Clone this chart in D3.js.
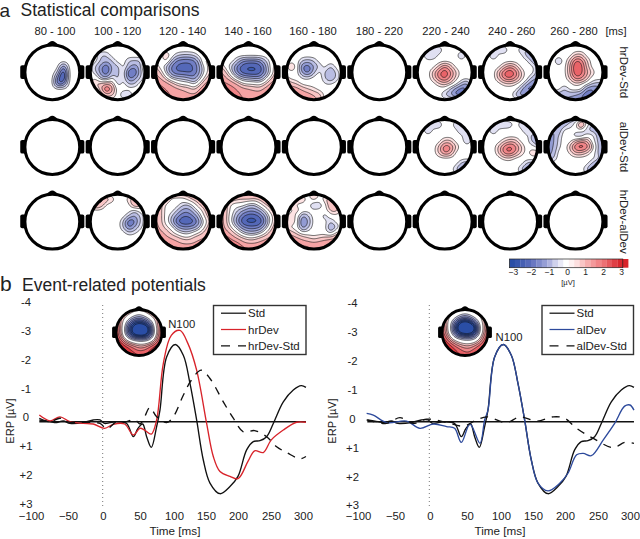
<!DOCTYPE html>
<html>
<head>
<meta charset="utf-8">
<script src="https://d3js.org/d3.v7.min.js"></script>
<style>
body{margin:0;background:#fff;}
svg{display:block;font-family:"Liberation Sans",Arial,sans-serif;}
text{fill:#222;}
</style>
</head>
<body>
<div id="fig"></div>
<script>
// grand average ERP curves (ms / microvolt)
var stdMs = [-96,-80,-70,-60,-50,-30,-15,-5,2,10,20,35,45,52,59,65,72,80,85,95,108,120,130,140,150,160,175,190,202,215,225,235,245,255,270,285,297,304];
var stdUv = [-.06,0,.03,-.03,.06,.03,-.06,-.06,.06,.03,0,.06,.52,.23,.08,.52,.89,.17,-.40,-2.25,-2.68,-2.31,-1.33,-.06,1.33,2.13,2.50,2.25,1.90,.98,.69,.66,.52,.06,-.69,-1.10,-1.25,-1.19];
var hrMs = [-96,-80,-65,-50,-30,-15,2,15,32,45,55,62,72,80,90,102,115,127,140,155,165,175,190,202,217,227,240,252,270,290,304];
var hrUv = [-.23,-.03,-.17,0,.06,.08,.23,.09,.08,.46,.23,.29,.43,-.06,-2.02,-3.0,-3.17,-2.71,-1.79,.06,1.21,1.73,1.90,1.98,1.38,1.01,1.07,.63,.29,.02,.02];
var hrDiffMs = [-96,-80,-65,-55,-5,5,20,35,47,55,62,70,80,95,105,120,132,147,160,180,195,210,227,245,260,275,295,304];
var hrDiffUv = [-.12,0,-.12,0,.06,.25,0,0,-.08,.08,-.17,-.5,-.17,.03,-.17,-.92,-1.44,-1.79,-1.5,-.69,-.12,.35,.31,.52,.87,1.07,1.29,1.21];
var alMs = [-97,-87,-67,-37,-17,3,23,35,45,58,73,80,85,95,108,120,130,140,150,160,175,193,205,218,228,240,258,275,290,298,304];
var alUv = [-.29,-.23,.03,-.02,.23,.08,.17,.23,.72,.08,.75,-.06,-.40,-2.25,-2.68,-2.31,-1.33,-.06,1.33,2.13,2.40,2.13,1.79,1.15,1.10,1.18,.63,.06,-.54,-.58,-.40];
var alDiffMs = [-97,-67,-47,-27,-7,23,48,68,83,113,133,158,183,200,218,243,273,290,304];
var alDiffUv = [-.06,.06,-.14,.06,-.09,.03,.15,-.06,-.17,.03,-.17,-.02,-.17,-.12,.23,.58,.90,.72,.75];

var timeTicks = [-100,-50,0,50,100,150,200,250,300];
var timeTickPos = [31,68,103,140,174,206,238,271,303];
var uvTicks = [-4,-3,-2,-1,0,1,2,3];
var uvTickLabels = ["-4","-3","-2","-1","0","+1","+2","+3"];
var windows = ["80 - 100","100 - 120","120 - 140","140 - 160","160 - 180","180 - 220","220 - 240","240 - 260","260 - 280"];
var windowPos = [55,117.7,182.7,248,313,379.3,446,511.7,574];
var contrasts = ["hrDev-Std","alDev-Std","hrDev-alDev"];
var barTicks = [-3,-2,-1,0,1,2,3];
var mapLevels = [.3,.7,1.2,1.7,2.2,2.7,3.2];
var insetLevels = [.4,.8,1.2,1.6,2,2.4,2.8];

// scalp maps: 11x11 grids (rows front to back, left to right), microvolt, 0 = not significant
var blank = null;
var hs80 = [[0,0,0,0,0,0,0,0,0,0,0],[0,0,0,0,0,0,0,0,0,0,0],[0,0,0,0,0,0,0,0,0,0,0],[0,0,0,0,0,0,0,0,0,0,0],[0,0,0,0,0,0,0,-2,0,0,0],[0,0,0,0,0,0,-.6,-3.4,0,0,0],[0,0,0,0,0,0,-2,-3.4,0,0,0],[0,0,0,0,0,0,-2.5,-2,0,0,0],[0,0,0,0,0,0,0,0,0,0,0],[0,0,0,0,0,0,0,0,0,0,0],[0,0,0,0,0,0,0,0,0,0,0]];
var hs100 = [[0,0,0,0,0,0,0,0,0,0,0],[0,0,0,0,0,0,0,0,0,0,0],[0,0,-.8,-.8,0,0,0,0,0,0,0],[0,0,-.8,-1,-.8,0,0,-.8,-.8,-.8,0],[0,-.8,-1.5,-2.5,-.9,-1,0,-1,-1.6,-1,1],[0,-.6,-1.5,-2.5,-.8,-1,0,-2.5,-2.5,-.9,0],[0,.4,-1,-1.2,-.2,-1,0,-2,-1.5,-.7,0],[0,1,.9,1,1,-.8,0,-.8,-.8,0,0],[0,0,1,3,1.4,0,0,0,0,0,0],[0,0,0,1,.9,0,-.9,-.9,0,0,0],[0,0,0,0,0,0,0,0,0,0,0]];
var hs120 = [[0,0,0,0,0,0,0,0,0,0,0],[0,0,0,0,0,0,0,0,0,0,0],[0,0,1,0,-.6,-.8,-.8,-.6,0,0,0],[0,0,.5,-1,-2,-2.2,-2.2,-2,-.8,.8,0],[.8,0,-.8,-2,-2.4,-2.4,-2.4,-2.2,-1.2,0,.8],[1.2,.8,-.6,-1.8,-2.3,-2.3,-2.4,-2.2,-1.2,0,.8],[1.4,1.2,.4,-.6,-.8,-.9,-1.2,-1.6,-.6,.6,1.2],[1.8,1.7,1.5,1,.3,0,0,-.6,.4,1.4,1.7],[1.8,1.8,1.7,1.6,1.4,1.2,1,.6,1.4,1.7,1.7],[1.9,1.9,1.8,1.6,1.5,1.4,1.3,1.3,1.5,1.7,1.7],[1.9,1.9,1.9,1.8,1.7,1.6,1.6,1.6,1.6,1.7,1.7]];
var hs140 = [[0,0,0,0,0,0,0,0,0,0,0],[0,0,0,0,0,0,0,0,0,0,0],[0,0,0,0,0,0,0,0,0,0,0],[0,0,0,-.8,-1.8,-2,-2,-1.8,-.8,0,0],[.8,0,-.8,-2,-2.6,-2.8,-2.8,-2.6,-1.5,0,.8],[1.4,.8,-.5,-1.8,-2.6,-2.8,-2.8,-2.6,-1.5,-.3,1],[1.5,1.3,.6,-.5,-1,-1.2,-1.4,-1.5,-.6,.6,1.3],[1.9,1.8,1.6,1.2,.3,.2,.2,0,.6,1.4,1.7],[2.1,2,1.9,1.7,1.5,1.3,1.1,1,1.5,1.7,1.8],[2.2,2.2,2,1.8,1.6,1.6,1.5,1.5,1.6,1.8,1.8],[2.2,2.2,2.2,2,1.7,1.7,1.8,1.8,1.8,1.8,1.8]];
var hs160 = [[0,0,0,0,0,0,0,0,0,0,0],[0,0,0,0,0,0,0,0,0,0,0],[0,0,0,0,0,0,0,0,0,0,0],[0,0,0,-.8,-1,-.7,0,0,0,0,0],[0,1.2,0,-2,-2.2,-1.2,-.7,0,-.9,0,0],[0,0,0,-1.5,-2.2,-.8,0,-.8,-1.4,-.6,0],[.5,0,0,-.3,-.3,0,0,-.7,-1.4,-.6,0],[1.2,.9,.6,0,0,0,0,-.3,-.3,0,0],[1.6,1.6,1.5,1.1,.7,.4,0,0,0,0,0],[1.8,1.8,1.7,1.6,1.5,1.2,1,0,0,0,0],[1.9,1.9,1.8,1.7,1.6,1.4,1.1,0,0,0,0]];
var hs220 = [[0,0,0,0,0,0,0,0,0,0,0],[0,0,0,-.8,-.8,0,0,0,0,0,0],[0,0,-1.1,-.8,0,0,0,0,-1.1,0,0],[0,0,0,0,0,0,0,0,0,0,0],[0,0,0,0,.8,2,1,0,0,0,0],[0,0,0,1,2.2,2.8,2,.8,0,0,0],[0,0,0,.8,2,2.6,1.6,.5,0,0,0],[0,0,0,0,.6,1,.6,0,-.8,-1.5,0],[0,0,0,0,0,0,-.8,-1.5,-2.2,-2,0],[0,0,0,0,0,-.9,-1.2,-2.2,-2,0,0],[0,0,0,0,0,0,0,0,0,0,0]];
var hs240 = [[0,0,0,0,0,0,0,0,0,0,0],[0,0,0,-.8,-.8,0,0,-.8,-.8,0,0],[0,0,-1.1,0,0,0,0,0,-1.1,-1.1,0],[0,0,0,0,0,0,0,0,0,-1.1,-1.1],[0,0,0,0,.9,1.8,1,0,0,0,-1.1],[0,0,0,1.2,2.5,2.8,2.2,.7,0,0,-1.1],[0,0,0,1,2.2,2.5,1.8,.6,0,-.9,-1.2],[0,0,0,0,.5,.6,.3,0,-.9,-1.8,-1.8],[0,0,0,0,0,0,0,-1,-2.2,-2,-1],[0,0,0,0,0,0,-.9,-1.8,-1.2,0,0],[0,0,0,0,0,0,0,0,0,0,0]];
var hs260 = [[0,0,0,0,0,0,0,0,0,0,0],[0,0,0,0,0,0,0,0,0,0,0],[0,0,0,0,0,.9,1,0,0,0,0],[0,0,-1.1,0,.8,2.5,2.2,.8,0,0,0],[0,0,0,0,1.2,3,2.6,1,0,0,0],[0,0,0,0,1.2,2.8,2.5,1.5,.6,0,0],[0,0,0,0,.8,2.2,2,1,0,0,0],[0,0,0,0,0,.5,.3,0,-.6,-.9,-.9],[0,0,0,-.9,0,0,0,-1.6,-2,-1.6,-.9],[-.9,-1,-1.1,-1.1,-1.2,-1.3,-1.6,-2.4,-1.6,-1.1,-.9],[-1,-1,-1.2,-1.2,-1.3,-1.4,-1.6,-2,-1.4,-1,-1]];
var as220 = [[0,0,0,0,0,0,0,0,0,0,0],[0,0,0,-.9,-.8,0,0,-.8,-.8,0,0],[0,0,-1.1,0,0,0,0,0,-1.1,0,0],[0,0,0,0,0,0,0,0,0,-1.1,0],[0,0,0,0,0,.9,.9,0,0,-.8,0],[0,0,0,0,.9,2.4,2,.8,0,0,0],[0,0,0,0,.9,2,1.6,0,0,0,0],[0,0,0,0,0,0,0,0,0,0,0],[0,0,0,0,0,0,0,0,-.9,-1.4,-.7],[0,0,0,0,0,0,0,-.8,-1.6,-1,0],[0,0,0,0,0,0,0,0,0,0,0]];
var as240 = [[0,0,0,0,0,0,0,0,0,0,0],[0,0,0,-.9,-.8,-.7,0,-.8,-.8,0,0],[0,0,-1.1,0,0,0,0,0,-1.1,0,0],[0,0,0,0,0,0,0,0,0,-1.1,-1.1],[0,0,0,0,.6,1.2,1,0,0,-.9,-1.1],[0,0,0,.9,2.2,2.6,2,.8,0,0,-.7],[0,0,0,.8,2.2,2.4,1.6,.6,0,.9,.9],[0,0,0,0,.4,.5,0,0,0,0,0],[0,0,0,0,0,0,0,0,-.9,-1.2,-.8],[0,0,0,0,0,0,0,-.9,-1.5,-.9,0],[0,0,0,0,0,0,0,0,0,0,0]];
var as260 = [[0,0,0,0,-1,-1,0,0,0,0,0],[0,0,-1.2,-1.2,-.7,0,2.4,0,-1,0,0],[0,-1.4,-1.2,0,0,0,0,-.8,-1,-1,0],[-1.4,-1.4,-.6,0,0,-.8,-1.1,0,0,-1,-1],[-1.5,-1.4,-.5,0,0,1,1.8,1.4,0,-.8,-1.2],[-1.5,-1.3,-.4,0,.8,2.5,2.8,2.4,.8,-.8,-1.2],[-1.5,-1.2,0,0,.3,1.2,1.2,.6,0,-.8,-1.2],[-1.2,-.8,0,0,0,0,0,0,0,-.6,-.9],[0,0,0,0,0,0,0,0,-.9,-1.4,-.8],[0,0,0,0,0,0,0,-.9,-1.6,-1,0],[0,0,0,0,0,0,0,0,0,0,0]];
var ha100 = [[0,0,0,0,0,0,0,0,0,0,0],[0,0,1.8,1.2,.6,0,0,.6,1.4,0,0],[0,1.8,1.2,0,0,0,0,0,1.5,1.2,0],[0,0,0,0,0,0,0,0,-.7,0,0],[0,0,0,0,0,0,0,-.7,-1.4,-.7,0],[0,0,0,0,0,0,-.7,-2.5,-2,-.7,0],[0,0,0,0,0,0,-.7,-2,-1.2,-.4,0],[0,0,0,0,0,0,0,-.5,-.3,0,0],[0,0,0,0,0,0,0,0,0,0,0],[0,0,0,0,0,0,0,0,0,0,0],[0,0,0,0,0,0,0,0,0,0,0]];
var ha120 = [[1,1,1,1,1,1,1,1,1,1,1],[1.2,1.2,1,0,0,0,.6,1,1,1,1],[1.2,1,0,0,0,-.7,-.8,0,.9,1,1],[1.2,.9,0,0,-.8,-1.5,-1.5,-.8,0,.9,1],[1.3,.9,0,-.7,-1.6,-2.2,-2.2,-1.6,-.7,.7,1],[1.3,.9,0,-1,-2.4,-2.8,-2.8,-2.4,-1.2,0,1],[1.5,1,.5,0,-1.2,-1.6,-1.6,-1.4,-.7,.6,1.2],[1.7,1.4,1,.5,0,-.5,-.5,0,.5,1,1.3],[1.9,1.8,1.4,1.2,1,.6,.5,1,1.2,1.3,1.4],[2,2,1.9,1.6,1.4,1.3,1.3,1.3,1.4,1.4,1.4],[2,2,2,2,1.6,1.5,1.5,1.5,1.5,1.5,1.5]];
var ha140 = [[1.2,1.2,1.2,1.2,1.2,1.2,1.2,1.2,1.2,1.2,1.2],[1.3,1.3,1.1,.8,.7,.9,.7,.9,1.1,1.1,1.1],[1.3,1,0,0,0,-.7,-.8,0,.8,1,1.1],[1.4,.9,0,-.7,-1.2,-1.6,-1.6,-1.2,-.4,.8,1.1],[1.5,.9,-.3,-1.2,-2.2,-2.6,-2.6,-2.2,-1.2,0,1],[1.5,.9,-.4,-1.6,-2.8,-3,-3,-2.8,-1.6,0,1],[1.6,1,.3,-.7,-1.6,-2,-2,-1.8,-.8,.5,1.2],[1.8,1.5,1,.4,-.5,-.9,-.9,-.6,.3,1,1.4],[2.2,2,1.6,1.2,.9,.5,.5,1,1.2,1.4,1.5],[2.4,2.4,2.2,2,1.4,1.4,1.4,1.4,1.5,1.6,1.6],[2.4,2.4,2.4,2.4,2,1.5,1.5,1.6,1.6,1.6,1.6]];
var ha160 = [[0,0,0,0,0,.9,0,0,0,0,0],[0,0,.9,.8,0,.8,0,.8,1.2,0,0],[0,.9,0,0,0,-1.2,-.8,0,1.4,1.2,0],[0,0,.8,0,0,0,0,0,.9,1,0],[0,.9,0,-1.5,-.8,0,0,-.8,0,0,0],[0,.9,0,-2.2,-1.2,0,0,0,-.8,0,0],[.6,0,0,-1.8,-.7,0,0,0,-1.6,-.8,0],[1.4,1,.5,0,0,0,0,0,-.6,.5,.8],[1.7,1.6,1.4,1.1,.8,.5,.8,1,1.2,1.4,1.5],[1.9,1.9,1.7,1.6,1.6,1.5,1.6,1.7,1.8,1.8,1.8],[2,2,2,2,1.8,1.7,1.7,1.8,1.8,1.8,1.8]];
var n100hr = [[1,1,1,1,.8,.6,.8,1,1,1,1],[1.2,1.2,.9,.5,0,-.3,0,.5,.9,1.2,1.2],[1.6,1,.3,-.4,-1,-1.2,-1,-.4,.3,1,1.6],[2,1,-.2,-1.4,-2.4,-2.8,-2.4,-1.6,-.4,1,1.8],[2.2,1,-.6,-2,-3.6,-4.2,-4.2,-2.8,-.8,.8,2],[2.2,1.1,-.6,-2,-3.6,-4.2,-4.2,-2.8,-1,.8,2.2],[2.4,1.4,0,-1,-1.6,-1.8,-1.8,-1.4,-.4,1.2,2.2],[2.6,2.2,1.2,.5,0,-.2,-.2,0,.7,1.8,2.4],[2.8,2.6,2.2,1.8,1.4,1,1,1.5,2,2.4,2.6],[3,2.8,2.6,2.2,1.9,1.7,1.8,2,2.3,2.6,2.6],[3,3,3,2.6,2.2,2,2,2.2,2.4,2.6,2.6]];
var n100al = [[.9,.9,.9,.8,.6,.5,.6,.8,.9,.9,.9],[1.1,1,.7,.3,-.2,-.4,-.2,.3,.7,1,1.1],[1.4,.8,.1,-.6,-1.2,-1.6,-1.2,-.6,.1,.8,1.4],[1.8,.8,-.4,-1.6,-3,-3.6,-3,-1.8,-.5,.8,1.6],[2,.9,-.6,-2.2,-4,-4.4,-4.4,-3.2,-.9,.7,1.8],[2,1,-.4,-1.6,-3,-3.4,-3.4,-2.4,-.7,.8,2],[2.3,1.6,.3,-.6,-1,-1.2,-1.2,-.9,0,1.3,2.2],[2.5,2.2,1.4,.7,.2,0,0,.2,.9,1.8,2.4],[2.7,2.5,2.2,1.7,1.3,1,1,1.4,1.9,2.3,2.5],[2.7,2.7,2.4,2.1,1.8,1.6,1.6,1.9,2.1,2.4,2.5],[2.7,2.7,2.7,2.4,2,1.8,1.8,2,2.2,2.4,2.4]];

var rowsOfMaps = [
	[hs80,hs100,hs120,hs140,hs160,blank,hs220,hs240,hs260],
	[blank,blank,blank,blank,blank,blank,as220,as240,as260],
	[blank,ha100,ha120,ha140,ha160,blank,blank,blank,blank]
];

var svg = d3.select("#fig").append("svg").attr("width",640).attr("height",539);

var uvColor = d3.scaleLinear().domain([-3,-2,-1,-.5,0,.5,1,2,3])
	.range(["#2a4ea6","#5f6fbd","#a9aedd","#e0e0f2","#ffffff","#fde3e3","#f8b8b8","#ee7478","#d8232a"]).clamp(true);
var clipCount = 0;

// smooth the coarse grid so d3.contours gets round lines
var upsample = function(grid,n){
	var rowFns = grid.map(function(r){ return d3.interpolateBasis(r); });
	var out = new Array(n*n);
	for(var ix=0;ix<n;ix++){
		var col = d3.interpolateBasis(rowFns.map(function(f){ return f(ix/(n-1)); }));
		for(var iy=0;iy<n;iy++){
			out[iy*n+ix] = col(iy/(n-1));
		}
	}
	return out;
};

var drawHead = function(cx,cy,r,grid,sw,levels,gain){
	var g = svg.append("g").attr("transform","translate("+cx+","+cy+")");
	var id = "clip"+(clipCount++);
	g.append("clipPath").attr("id",id).append("circle").attr("r",r);

	// ears and nose
	g.append("rect").attr("x",-r*1.17).attr("y",-r*.26).attr("width",r*.25).attr("height",r*.5).attr("rx",r*.07).attr("fill","#000");
	g.append("rect").attr("x",r*.92).attr("y",-r*.26).attr("width",r*.25).attr("height",r*.5).attr("rx",r*.07).attr("fill","#000");
	g.append("path").attr("d","M"+(-r*.24)+","+(-r*.97)+"Q"+(-r*.1)+","+(-r*1.14)+" 0,"+(-r*1.14)+"Q"+(r*.1)+","+(-r*1.14)+" "+(r*.24)+","+(-r*.97)+"Z").attr("fill","#000");

	g.append("circle").attr("r",r).attr("fill","#fff");

	if(grid){
		var n = 61;
		var vals = upsample(grid,n);
		var neg = vals.map(function(v){ return -v; });
		var geo = d3.geoPath();
		var layer = g.append("g").attr("clip-path","url(#"+id+")")
			.append("g").attr("transform","translate("+(-r*1.02)+","+(-r*1.02)+") scale("+(2.04*r/(n-1))+")");
		var cont = d3.contours().size([n,n]).thresholds(levels);
		[[vals,1],[neg,-1]].forEach(function(s){
			layer.selectAll(null).data(cont(s[0])).enter().append("path")
				.attr("d",geo)
				.attr("transform","translate(-.5,-.5)")
				.attr("fill",function(d){ return uvColor(s[1]*(d.value+.25)*gain); })
				.attr("stroke","#111")
				.attr("stroke-width",.6)
				.attr("vector-effect","non-scaling-stroke");
		});
	}
	g.append("circle").attr("r",r).attr("fill","none").attr("stroke","#000").attr("stroke-width",sw);
};

// panel a
var colX = d3.scaleLinear().domain([0,8]).range([52.3,575.5]);
var rowY = d3.scaleLinear().domain([0,2]).range([72.3,221.7]);
rowsOfMaps.forEach(function(row,j){
	row.forEach(function(grid,i){
		drawHead(colX(i),rowY(j),27.4,grid,3,mapLevels,.9);
	});
});

svg.append("text").attr("x",-.5).attr("y",17).attr("font-size",19).text("a");
svg.append("text").attr("x",20.5).attr("y",16).attr("font-size",17.5).text("Statistical comparisons");
svg.append("text").attr("x",0).attr("y",291).attr("font-size",21).text("b");
svg.append("text").attr("x",22).attr("y",291).attr("font-size",17.5).text("Event-related potentials");

svg.selectAll(".win").data(windows).enter().append("text").attr("class","win")
	.attr("x",function(d,i){ return windowPos[i]; }).attr("y",34.5)
	.attr("text-anchor","middle").attr("font-size",11.2).text(function(d){ return d; });
svg.append("text").attr("x",616).attr("y",34.5).attr("text-anchor","middle").attr("font-size",11.2).text("[ms]");

svg.selectAll(".contrast").data(contrasts).enter().append("text").attr("class","contrast")
	.attr("text-anchor","middle").attr("font-size",11.5)
	.attr("transform",function(d,i){ return "translate(619.5,"+rowY(i)+") rotate(90)"; })
	.text(function(d){ return d; });

// colour bar
var barX = d3.scaleLinear().domain([-3,3]).range([513,621]);
svg.append("g").selectAll("rect").data(d3.range(-3.2,3.1,.3)).enter().append("rect")
	.attr("x",function(d){ return barX(d); })
	.attr("y",259).attr("height",8.7)
	.attr("width",barX(.3)-barX(0)+.2)
	.attr("fill",function(d){ return uvColor(Math.abs(d+.15)<.16 ? 0 : d+.15); });
svg.append("rect").attr("x",509.4).attr("y",259).attr("width",113.4).attr("height",8.7).attr("fill","none").attr("stroke","#222").attr("stroke-width",.7);
var barAxis = svg.append("g").attr("transform","translate(0,267)")
	.call(d3.axisBottom(barX).tickValues(barTicks).tickSize(0).tickPadding(2).tickFormat(d3.format("d")));
barAxis.select(".domain").remove();
barAxis.selectAll("text").attr("font-size",8.5).attr("font-family","Liberation Sans").attr("fill","#222");
svg.append("text").attr("x",568).attr("y",284.5).attr("text-anchor","middle").attr("font-size",7.5).text("[µV]");

// panel b
var erpPanel = function(o){
	var x = d3.scaleLinear().domain([0,300]).range([o.zero,o.zero+200]);
	var y = d3.scaleLinear().domain([0,1]).range([421.7,450.5]);
	var yTick = d3.scalePoint().domain(uvTicks).range([301.7+o.dy,504+o.dy]);
	var xTick = d3.scaleLinear().domain(timeTicks).range(timeTickPos.map(function(p){ return p+o.shift; }));

	var xAxis = svg.append("g").attr("transform","translate(0,509)")
		.call(d3.axisBottom(xTick).tickValues(timeTicks).tickSize(0).tickPadding(3)
			.tickFormat(function(d){ return d<0 ? "\u2212"+(-d) : d; }));
	xAxis.select(".domain").remove();
	xAxis.selectAll("text").attr("font-size",11.3).attr("font-family","Liberation Sans").attr("fill","#222");

	var yAxis = svg.append("g").attr("transform","translate("+o.labelX+",0)")
		.call(d3.axisLeft(yTick).tickSize(0).tickPadding(0)
			.tickFormat(function(d,i){ return uvTickLabels[i]; }));
	yAxis.select(".domain").remove();
	yAxis.selectAll("text").attr("font-size",11.3).attr("font-family","Liberation Sans").attr("text-anchor","middle").attr("fill","#222");

	svg.append("text").attr("text-anchor","middle").attr("font-size",11)
		.attr("transform","translate("+o.erpX+",421) rotate(-90)").text("ERP [µV]");
	svg.append("text").attr("x",o.timeX).attr("y",535).attr("text-anchor","middle").attr("font-size",11.7).text("Time [ms]");

	// stimulus onset
	svg.append("line").attr("x1",o.onset).attr("x2",o.onset).attr("y1",305).attr("y2",507)
		.attr("stroke","#777").attr("stroke-width",1).attr("stroke-dasharray","1,3");
	svg.append("line").attr("x1",x(-96)).attr("x2",x(304)).attr("y1",y(0)).attr("y2",y(0))
		.attr("stroke","#111").attr("stroke-width",1.4);

	var line = d3.line().curve(d3.curveCatmullRom)
		.x(function(d){ return x(d[0]); })
		.y(function(d){ return y(d[1]); });

	o.series.forEach(function(s){
		svg.append("path").datum(d3.zip(s.ms,s.uv))
			.attr("fill","none").attr("stroke",s.color)
			.attr("stroke-width",1.35)
			.attr("stroke-dasharray",s.dash ? "8,7" : null)
			.attr("stroke-linejoin","round")
			.attr("d",line);
	});

	drawHead(o.headX,332.5,23,o.grid,2.8,insetLevels,1.2);
	svg.append("text").attr("x",o.n100X).attr("y",o.n100Y).attr("text-anchor","middle").attr("font-size",11.3).text("N100");

	// legend
	svg.append("rect").attr("x",o.boxX).attr("y",305.5).attr("width",o.boxW).attr("height",49)
		.attr("fill","#fff").attr("stroke","#333").attr("stroke-width",1.4);
	o.series.forEach(function(s,i){
		var ly = 313.2+16.3*i;
		svg.append("line").attr("x1",o.boxX+7.5).attr("x2",o.boxX+32.5).attr("y1",ly).attr("y2",ly)
			.attr("stroke",s.color).attr("stroke-width",1.25)
			.attr("stroke-dasharray",s.dash ? "9,8" : null);
		svg.append("text").attr("x",o.boxX+34.5).attr("y",ly+4).attr("font-size",11.5).text(s.name);
	});
};

erpPanel({zero:103.3,onset:102.7,shift:0,dy:0,labelX:26,erpX:14,timeX:175,headX:139,grid:n100hr,n100X:181.7,n100Y:328,boxX:213.5,boxW:92.5,
	series:[{name:"Std",ms:stdMs,uv:stdUv,color:"#111"},{name:"hrDev",ms:hrMs,uv:hrUv,color:"#d8232a"},{name:"hrDev-Std",ms:hrDiffMs,uv:hrDiffUv,color:"#111",dash:true}]});
erpPanel({zero:431.3,onset:429.3,shift:327,dy:1.3,labelX:352.5,erpX:335.5,timeX:500,headX:465,grid:n100al,n100X:509,n100Y:341,boxX:542,boxW:91.5,
	series:[{name:"Std",ms:stdMs,uv:stdUv,color:"#111"},{name:"alDev",ms:alMs,uv:alUv,color:"#2d4a9c"},{name:"alDev-Std",ms:alDiffMs,uv:alDiffUv,color:"#111",dash:true}]});
</script>
</body>
</html>
